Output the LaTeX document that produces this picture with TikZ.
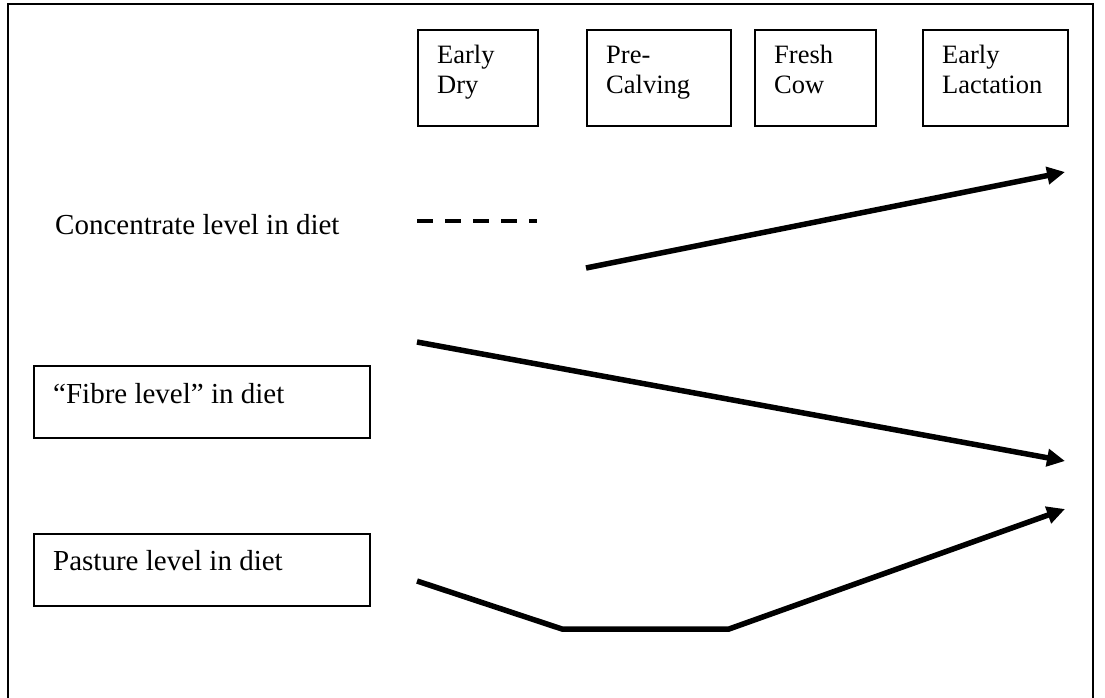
\documentclass[tikz,border=0pt]{standalone}
\usepackage{fontspec}
\setmainfont{Liberation Serif}
\usetikzlibrary{arrows.meta}
\tikzset{
  frameline/.style={line width=2pt},
  stagebox/.style={draw, line width=1.6pt, inner sep=0pt},
  stagelabel/.style={anchor=base west, align=left, inner sep=0pt, font=\fontsize{26.5}{30}\selectfont},
  sidelabel/.style={anchor=base west, inner sep=0pt, font=\fontsize{29}{34}\selectfont},
  trend/.style={line width=5.5pt, -{Triangle[length=18pt,width=17pt]}},
  dashtrend/.style={line width=4pt, dash pattern=on 16pt off 12pt}
}
\begin{document}
\begin{tikzpicture}[x=1pt,y=-1pt]
\useasboundingbox (0,0) rectangle (1105,698);
% outer frame
\coordinate (f1) at (8,698);
\coordinate (f2) at (8,4);
\coordinate (f3) at (1093,4);
\coordinate (f4) at (1093,698);
\draw[frameline] (f1) -- (f2) -- (f3) -- (f4);

% stage boxes
\node[stagebox, minimum width=120pt, minimum height=96pt, anchor=north west] (ed) at (417,29) {};
\node[stagebox, minimum width=144pt, minimum height=96pt, anchor=north west] (pc) at (586,29) {};
\node[stagebox, minimum width=121pt, minimum height=96pt, anchor=north west] (fc) at (754,29) {};
\node[stagebox, minimum width=145pt, minimum height=96pt, anchor=north west] (el) at (922,29) {};

\node[stagelabel] (edt) at (437,94) {Early\\Dry};
\node[stagelabel] (pct) at (606,94) {Pre-\\Calving};
\node[stagelabel] (fct) at (774,94) {Fresh\\Cow};
\node[stagelabel] (elt) at (942,94) {Early\\Lactation};

% side labels
\node[sidelabel] (conc) at (55,234) {Concentrate level in diet};
\node[draw, line width=1.6pt, minimum width=336pt, minimum height=72pt, anchor=north west, inner sep=0pt] (fibbox) at (33,365) {};
\node[sidelabel] (fib) at (53,403) {“Fibre level” in diet};
\node[draw, line width=1.6pt, minimum width=336pt, minimum height=72pt, anchor=north west, inner sep=0pt] (pasbox) at (33,533) {};
\node[sidelabel] (pas) at (53,570) {Pasture level in diet};

% trend coordinates
\coordinate (d1) at (417,221);
\coordinate (d2) at (537,221);
\coordinate (c1) at (586,268);
\coordinate (c2) at (1065,172);
\coordinate (b1) at (417,342);
\coordinate (b2) at (1065,461);
\coordinate (p1) at (417,581);
\coordinate (p2) at (562,629);
\coordinate (p3) at (729,629);
\coordinate (p4) at (1065,509);

\draw[dashtrend] (d1) -- (d2);
\draw[trend] (c1) -- (c2);
\draw[trend] (b1) -- (b2);
\draw[trend, line join=miter] (p1) -- (p2) -- (p3) -- (p4);
\end{tikzpicture}
\end{document}
